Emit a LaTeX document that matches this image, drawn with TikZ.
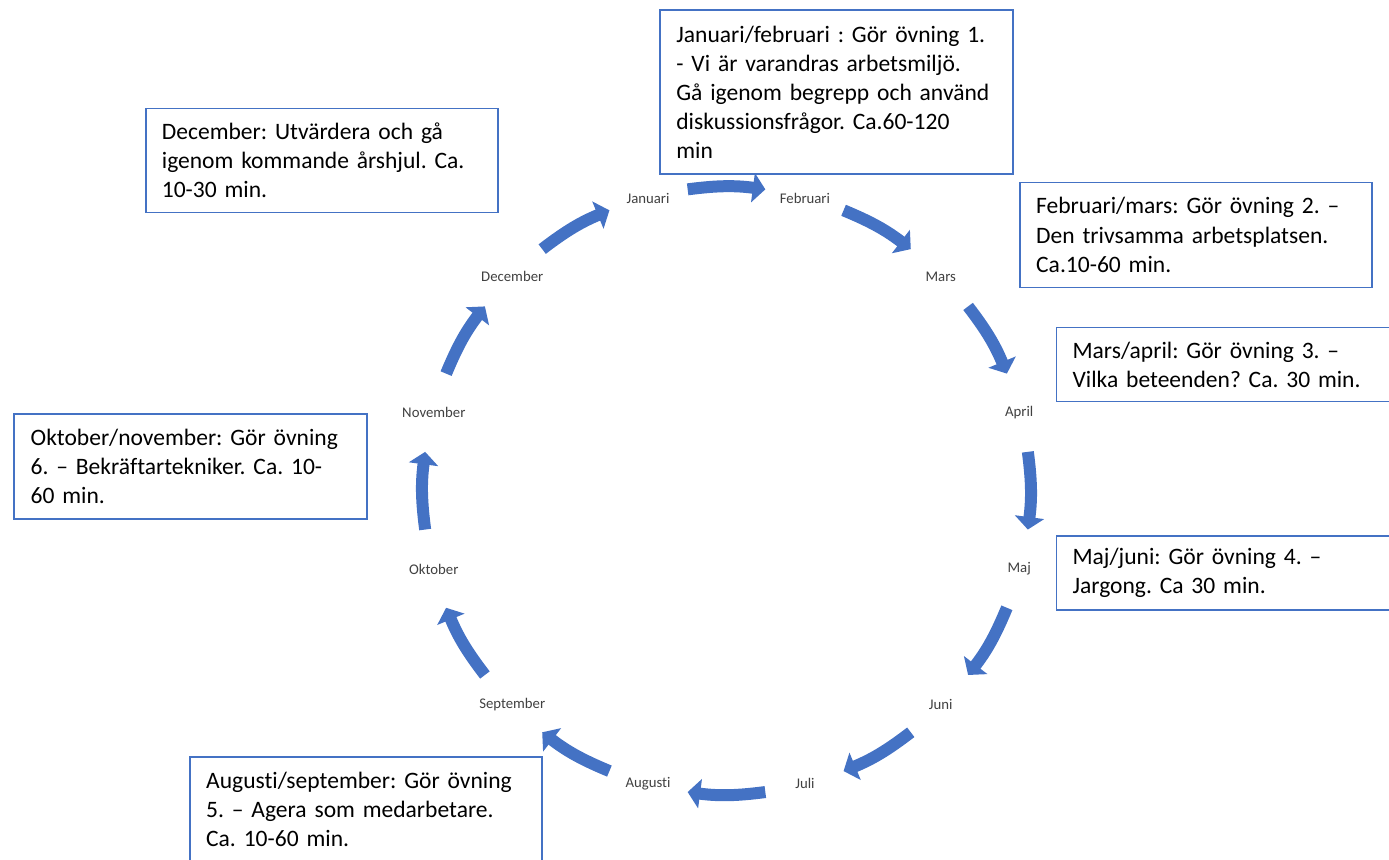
\documentclass[tikz,border=0pt]{standalone}
\usepackage{fontspec}
\setmainfont{Carlito}[Ligatures={TeX,NoCommon}]
\usepackage{xcolor}
\usepackage{tikz}
\usetikzlibrary{arrows.meta}
\frenchspacing

\definecolor{cycleblue}{HTML}{4472C4}
\definecolor{monthgray}{HTML}{404040}

\begin{document}
\begin{tikzpicture}[
        x=0.02cm, y=0.02cm,
        month/.style={text=monthgray, inner sep=1pt, font=\fontsize{8.4}{10}\selectfont},
        note/.style={rectangle, draw=cycleblue, line width=1pt, anchor=north west, text width=6.4cm, inner xsep=0.32cm, inner ysep=0pt, minimum width=7.04cm, align=left, font=\fontsize{13.4}{16.6}\selectfont},
        arrow/.style={-{Triangle[width=0.58cm, length=0.25cm]}, line width=0.24cm, draw=cycleblue}
    ]
    \useasboundingbox (-726.5,-368.3) rectangle (662.5,490.7);
    \clip (-726.5,-368.3) rectangle (662.5,490.7);

    % months round the circle
    \node[month] (jan) at (105:303) {Januari};
    \node[month] (feb) at (75:303) {Februari};
    \node[month] (mar) at (45:303) {Mars};
    \node[month] (apr) at (15:303) {April};
    \node[month] (maj) at (-15:303) {Maj};
    \node[month] (jun) at (-45:303) {Juni};
    \node[month] (jul) at (-75:303) {Juli};
    \node[month] (aug) at (-105:303) {Augusti};
    \node[month] (sep) at (-135:303) {September};
    \node[month] (okt) at (-165:303) {Oktober};
    \node[month] (nov) at (165:303) {November};
    \node[month] (dec) at (135:303) {December};

    % ends of the arrows
    \path (jan.center) to[bend left=15] coordinate[pos=0.24] (jan-s) coordinate[pos=0.76] (jan-e) (feb.center);
    \path (feb.center) to[bend left=15] coordinate[pos=0.24] (feb-s) coordinate[pos=0.76] (feb-e) (mar.center);
    \path (mar.center) to[bend left=15] coordinate[pos=0.24] (mar-s) coordinate[pos=0.76] (mar-e) (apr.center);
    \path (apr.center) to[bend left=15] coordinate[pos=0.24] (apr-s) coordinate[pos=0.76] (apr-e) (maj.center);
    \path (maj.center) to[bend left=15] coordinate[pos=0.24] (maj-s) coordinate[pos=0.76] (maj-e) (jun.center);
    \path (jun.center) to[bend left=15] coordinate[pos=0.24] (jun-s) coordinate[pos=0.76] (jun-e) (jul.center);
    \path (jul.center) to[bend left=15] coordinate[pos=0.24] (jul-s) coordinate[pos=0.76] (jul-e) (aug.center);
    \path (aug.center) to[bend left=15] coordinate[pos=0.24] (aug-s) coordinate[pos=0.76] (aug-e) (sep.center);
    \path (sep.center) to[bend left=15] coordinate[pos=0.24] (sep-s) coordinate[pos=0.76] (sep-e) (okt.center);
    \path (okt.center) to[bend left=15] coordinate[pos=0.24] (okt-s) coordinate[pos=0.76] (okt-e) (nov.center);
    \path (nov.center) to[bend left=15] coordinate[pos=0.24] (nov-s) coordinate[pos=0.76] (nov-e) (dec.center);
    \path (dec.center) to[bend left=15] coordinate[pos=0.24] (dec-s) coordinate[pos=0.76] (dec-e) (jan.center);

    \draw[arrow] (jan-s) to[bend left=7.5] (jan-e);
    \draw[arrow] (feb-s) to[bend left=7.5] (feb-e);
    \draw[arrow] (mar-s) to[bend left=7.5] (mar-e);
    \draw[arrow] (apr-s) to[bend left=7.5] (apr-e);
    \draw[arrow] (maj-s) to[bend left=7.5] (maj-e);
    \draw[arrow] (jun-s) to[bend left=7.5] (jun-e);
    \draw[arrow] (jul-s) to[bend left=7.5] (jul-e);
    \draw[arrow] (aug-s) to[bend left=7.5] (aug-e);
    \draw[arrow] (sep-s) to[bend left=7.5] (sep-e);
    \draw[arrow] (okt-s) to[bend left=7.5] (okt-e);
    \draw[arrow] (nov-s) to[bend left=7.5] (nov-e);
    \draw[arrow] (dec-s) to[bend left=7.5] (dec-e);

    % notes
    \node[note, minimum width=7.06cm, minimum height=3.28cm] (janfeb) at (-67.5,481.4) {Januari/februari : Gör övning 1.\\ - Vi är varandras arbetsmiljö.\\ Gå igenom begrepp och använd\\ diskussionsfrågor. Ca.60-120\\ min};
    \node[note, minimum height=2.08cm] (decnote) at (-581.5,383) {December: Utvärdera och gå\\ igenom kommande årshjul. Ca.\\ 10-30 min.};
    \node[note, minimum height=2.1cm] (febmar) at (292.8,309) {Februari/mars: Gör övning 2. –\\ Den trivsamma arbetsplatsen.\\ Ca.10-60 min.};
    \node[note, minimum height=1.48cm] (marapr) at (329.2,164) {Mars/april: Gör övning 3. –\\ Vilka beteenden? Ca. 30 min.};
    \node[note, minimum height=1.48cm] (majjun) at (329.2,-44.3) {Maj/juni: Gör övning 4. –\\ Jargong. Ca 30 min.};
    \node[note, minimum width=7.06cm, minimum height=2.1cm] (oktnov) at (-713.2,77.4) {Oktober/november: Gör övning\\ 6. – Bekräftartekniker. Ca. 10-\\ 60 min.};
    \node[note, minimum height=2.1cm] (augsep) at (-537.2,-265.3) {Augusti/september: Gör övning\\ 5. – Agera som medarbetare.\\ Ca. 10-60 min.};
\end{tikzpicture}
\end{document}
